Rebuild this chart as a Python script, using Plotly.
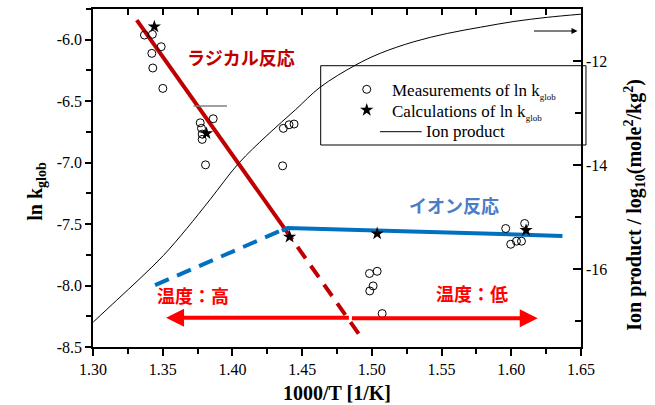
import plotly.graph_objects as go

# ---- measured and calculated ln k_glob (left axis) ----
meas_x = [1.3369, 1.3426, 1.3489, 1.3422, 1.3429, 1.3501,
          1.3862, 1.3769, 1.3778, 1.3783, 1.3783, 1.3807,
          1.4365, 1.4406, 1.4442, 1.4360,
          1.4983, 1.5038, 1.5009, 1.4985, 1.5074,
          1.5960, 1.6096, 1.5996, 1.6037, 1.6073]
meas_y = [-5.962, -5.956, -6.057, -6.111, -6.230, -6.396,
          -6.643, -6.676, -6.721, -6.768, -6.811, -7.018,
          -6.721, -6.692, -6.686, -7.026,
          -7.902, -7.884, -8.003, -8.044, -8.228,
          -7.536, -7.495, -7.664, -7.639, -7.639]

calc_x = [1.3440, 1.3814, 1.4410, 1.5038, 1.6106]
calc_y = [-5.894, -6.762, -7.604, -7.577, -7.550]

# ---- ion product of water (right axis, log10) ----
ion_x = [1.3002, 1.3170, 1.3338, 1.3505, 1.3673, 1.3841, 1.4044, 1.4248,
         1.4451, 1.4631, 1.4882, 1.5062, 1.5301, 1.5541, 1.5780, 1.6019,
         1.6259, 1.6499]
ion_y = [-17.02, -16.60, -16.18, -15.74, -15.22, -14.66, -13.97, -13.43,
         -12.94, -12.50, -12.08, -11.85, -11.63, -11.47, -11.35, -11.24,
         -11.16, -11.10]

# ---- regime trend lines ----
radical_solid_x = [1.3314, 1.4372]
radical_solid_y = [-5.840, -7.533]
radical_dash_x = [1.4372, 1.4930]
radical_dash_y = [-7.533, -8.432]
ionic_solid_x = [1.4355, 1.4395, 1.6367]
ionic_solid_y = [-7.555, -7.531, -7.596]
ionic_dash_x = [1.3445, 1.4343]
ionic_dash_y = [-7.997, -7.555]

# ---- ticks ----
x_ticks = [1.30, 1.35, 1.40, 1.45, 1.50, 1.55, 1.60, 1.65]
x_tick_labels = ["1.30", "1.35", "1.40", "1.45", "1.50", "1.55", "1.60", "1.65"]
x_minor = [1.325, 1.375, 1.425, 1.475, 1.525, 1.575, 1.625]
y_ticks = [-8.5, -8.0, -7.5, -7.0, -6.5, -6.0]
y_tick_labels = ["-8.5", "-8.0", "-7.5", "-7.0", "-6.5", "-6.0"]
y_minor = [-8.25, -7.75, -7.25, -6.75, -6.25, -5.75]
y2_ticks = [-16, -14, -12]
y2_tick_labels = ["-16", "-14", "-12"]
y2_minor = [-17, -15, -13]

SERIF = "Liberation Serif"
CJK = "Noto Sans CJK JP"
DARK_RED = "#c00000"
BLUE = "#0070c0"
RED = "#ff0000"

fig = go.Figure()

# trend lines
fig.add_trace(go.Scatter(x=radical_solid_x, y=radical_solid_y, mode="lines",
                         line=dict(color=DARK_RED, width=4), showlegend=False))
fig.add_trace(go.Scatter(x=radical_dash_x, y=radical_dash_y, mode="lines",
                         line=dict(color=DARK_RED, width=4, dash="14px,9px"),
                         showlegend=False))
fig.add_trace(go.Scatter(x=ionic_solid_x, y=ionic_solid_y, mode="lines",
                         line=dict(color=BLUE, width=4), showlegend=False))
fig.add_trace(go.Scatter(x=ionic_dash_x, y=ionic_dash_y, mode="lines",
                         line=dict(color=BLUE, width=4, dash="15px,9px"),
                         showlegend=False))

# ion product on the right axis
fig.add_trace(go.Scatter(x=ion_x, y=ion_y, mode="lines", xaxis="x2", yaxis="y2",
                         line=dict(color="black", width=1, shape="spline"),
                         showlegend=False))

# data points
fig.add_trace(go.Scatter(x=meas_x, y=meas_y, mode="markers",
                         marker=dict(symbol="circle-open", size=8, color="black",
                                     line=dict(width=1)),
                         showlegend=False))
fig.add_trace(go.Scatter(x=calc_x, y=calc_y, mode="markers",
                         marker=dict(symbol="star", size=10, color="black",
                                     line=dict(width=0)),
                         showlegend=False))

# legend keys drawn on a hidden paper-like axis pair
fig.add_trace(go.Scatter(x=[0.5609], y=[0.7624], xaxis="x3", yaxis="y3", mode="markers",
                         marker=dict(symbol="circle-open", size=8, color="black",
                                     line=dict(width=1)),
                         showlegend=False, cliponaxis=False, hoverinfo="skip"))
fig.add_trace(go.Scatter(x=[0.5609], y=[0.7012], xaxis="x3", yaxis="y3", mode="markers",
                         marker=dict(symbol="star", size=10, color="black",
                                     line=dict(width=0)),
                         showlegend=False, cliponaxis=False, hoverinfo="skip"))

axis_common = dict(showline=True, linecolor="black", linewidth=1.5, showgrid=False,
                   zeroline=False, tickcolor="black", tickwidth=1.5)

fig.update_layout(
    width=655, height=405,
    margin=dict(l=93, r=74, t=9, b=58),
    paper_bgcolor="white", plot_bgcolor="white",
    font=dict(family=SERIF, size=16, color="black"),
    xaxis=dict(range=[1.30, 1.65], tickvals=x_ticks, ticktext=x_tick_labels,
               ticks="outside", ticklen=7,
               minor=dict(tickvals=x_minor, ticks="outside", ticklen=5,
                          tickcolor="black", tickwidth=1.5),
               tickfont=dict(family=SERIF, size=16), **axis_common),
    xaxis2=dict(range=[1.30, 1.65], overlaying="x", side="top", anchor="y2",
                tickvals=x_ticks + x_minor, ticks="inside", ticklen=6,
                showticklabels=False, **axis_common),
    yaxis=dict(range=[-8.5, -5.75], tickvals=y_ticks, ticktext=y_tick_labels,
               ticks="outside", ticklen=6,
               minor=dict(tickvals=y_minor, ticks="outside", ticklen=5,
                          tickcolor="black", tickwidth=1.5),
               tickfont=dict(family=SERIF, size=16), **axis_common),
    yaxis2=dict(range=[-17.5, -11], overlaying="y", side="right", anchor="x2",
                tickvals=y2_ticks, ticktext=y2_tick_labels,
                ticks="inside", ticklen=8,
                minor=dict(tickvals=y2_minor, ticks="inside", ticklen=6,
                           tickcolor="black", tickwidth=1.5),
                tickfont=dict(family=SERIF, size=16), **axis_common),
    xaxis3=dict(range=[0, 1], overlaying="x", visible=False, fixedrange=True),
    yaxis3=dict(range=[0, 1], overlaying="y", visible=False, fixedrange=True),
    showlegend=False,
)

annotations = []

# axis titles
annotations.append(dict(xref="paper", yref="paper", x=0.5, y=-0.136,
                        text="<b>1000/T [1/K]</b>", showarrow=False,
                        font=dict(family=SERIF, size=20), xanchor="center",
                        yanchor="middle"))
annotations.append(dict(xref="paper", yref="paper", x=-0.115, y=0.462,
                        text="<b>ln k<sub>glob</sub></b>", showarrow=False,
                        textangle=-90, font=dict(family=SERIF, size=20),
                        xanchor="center", yanchor="middle"))
annotations.append(dict(xref="paper", yref="paper", x=1.11, y=0.42,
                        text="<b>Ion product / log<sub>10</sub>(mole<sup>2</sup>/kg<sup>2</sup>)</b>",
                        showarrow=False, textangle=-90,
                        font=dict(family=SERIF, size=20),
                        xanchor="center", yanchor="middle"))

# regime labels
annotations.append(dict(x=1.4063, y=-6.141, text="<b>ラジカル反応</b>", showarrow=False,
                        font=dict(family=CJK, size=18, color=DARK_RED)))
annotations.append(dict(x=1.5586, y=-7.346, text="<b>イオン反応</b>", showarrow=False,
                        font=dict(family=CJK, size=18, color="#4a7cc8")))
annotations.append(dict(x=1.3718, y=-8.079, text="<b>温度：高</b>", showarrow=False,
                        font=dict(family=CJK, size=18, color=RED)))
annotations.append(dict(x=1.5716, y=-8.063, text="<b>温度：低</b>", showarrow=False,
                        font=dict(family=CJK, size=18, color=RED)))

# temperature direction arrows
annotations.append(dict(x=1.3524, y=-8.262, ax=1.4846, ay=-8.262,
                        xref="x", yref="y", axref="x", ayref="y", text="",
                        showarrow=True, arrowhead=2, arrowsize=0.9, arrowwidth=4,
                        arrowcolor=RED))
annotations.append(dict(x=1.6190, y=-8.266, ax=1.4846, ay=-8.266,
                        xref="x", yref="y", axref="x", ayref="y", text="",
                        showarrow=True, arrowhead=2, arrowsize=0.9, arrowwidth=4,
                        arrowcolor=RED))

# axis pointer: ion-product curve belongs to the right axis
annotations.append(dict(x=1.6475, y=-5.929, ax=1.6152, ay=-5.929,
                        xref="x", yref="y", axref="x", ayref="y", text="",
                        showarrow=True, arrowhead=2, arrowsize=1.2, arrowwidth=1,
                        arrowcolor="black"))

# legend text
leg_font = dict(family=SERIF, size=17, color="black")
annotations.append(dict(xref="paper", yref="paper", x=0.6086, y=0.7560,
                        xanchor="left", yanchor="middle", showarrow=False,
                        text="Measurements of ln k<sub><span style='font-size:9px'>glob</span></sub>",
                        font=leg_font))
annotations.append(dict(xref="paper", yref="paper", x=0.6086, y=0.6950,
                        xanchor="left", yanchor="middle", showarrow=False,
                        text="Calculations of ln k<sub><span style='font-size:9px'>glob</span></sub>",
                        font=leg_font))
annotations.append(dict(xref="paper", yref="paper", x=0.6783, y=0.637,
                        xanchor="left", yanchor="middle", showarrow=False,
                        text="Ion product", font=leg_font))

fig.update_layout(annotations=annotations)

shapes = [
    # legend frame
    dict(type="rect", xref="paper", yref="paper", x0=0.4666, x1=1.0102,
         y0=0.5976, y1=0.8322, line=dict(color="black", width=1),
         fillcolor="white", layer="below"),
    # legend line key
    dict(type="line", xref="paper", yref="paper", x0=0.5881, x1=0.6736,
         y0=0.637, y1=0.637, line=dict(color="black", width=1)),
    # pointer toward the left axis
    dict(type="line", xref="x", yref="y", x0=1.3721, x1=1.3961,
         y0=-6.540, y1=-6.540, line=dict(color="#808080", width=1.5)),
]
fig.update_layout(shapes=shapes)

fig.write_html("out.html")
